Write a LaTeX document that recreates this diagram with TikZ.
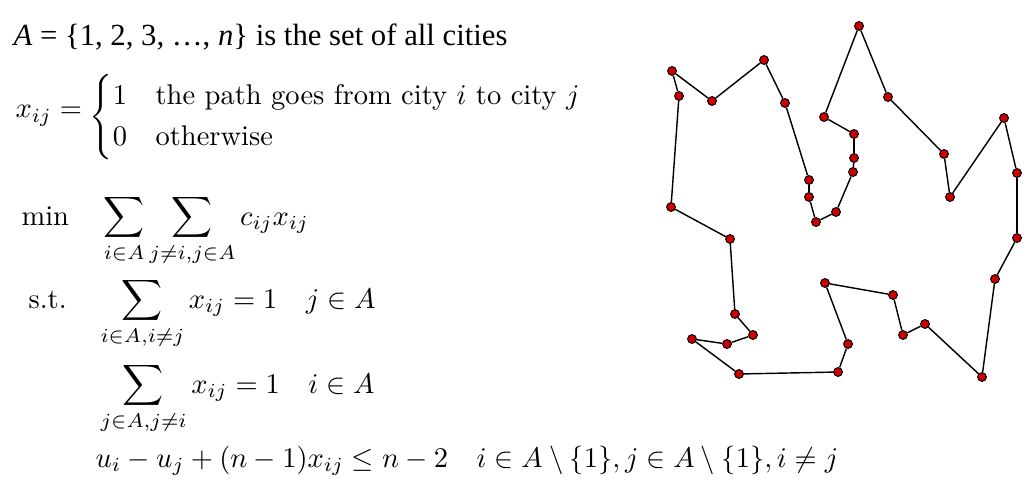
\documentclass[tikz,border=0pt]{standalone}
\usepackage{amsmath}
\usepackage{fontspec}
\usepackage{tikz}
\newfontfamily\timesfont{Liberation Serif}
\definecolor{cityred}{RGB}{204,0,0}

\begin{document}
\begin{tikzpicture}[x=0.3509pt,y=-0.3509pt]
		\tikzset{
			city/.style={
				draw, circle, fill=cityred, inner sep=0pt, minimum size=3.1pt, line width=0.35pt
			},
			formula/.style={
				anchor=base west, inner sep=0pt
			}
		}
		\useasboundingbox (0,0) rectangle (1036,492);
		
		\node [formula, font=\timesfont\fontsize{10.78}{13}\selectfont] (cities) at (13,46) {{\itshape A} = \{1, 2, 3, …, {\itshape n}\} is the set of all cities};
		\node [formula] (xdef) at (15,118) {$x_{ij} = \raisebox{-2.1pt}{$\renewcommand{\arraystretch}{1.25}\begin{cases} 1 & \text{the path goes from city $i$ to city $j$}\\ 0 & \text{otherwise}\end{cases}$}$};
		
		\node [formula] (min) at (21,225) {$\min$};
		\node [formula] (obj) at (103,225) {$\displaystyle\sum_{i\in A}\sum_{j\neq i,j\in A} c_{ij}x_{ij}$};
		\node [formula] (st) at (28,308) {s.t.};
		\node [formula] (con1) at (100,308) {$\displaystyle\sum_{i\in A,i\neq j} x_{ij} = 1 \quad j\in A$};
		\node [formula] (con2) at (100,393) {$\displaystyle\sum_{j\in A,j\neq i} x_{ij} = 1 \quad i\in A$};
		\node [formula] (con3) at (95,467) {$u_i - u_j + (n-1)x_{ij} \le n-2 \quad i\in A\setminus\{1\}, j\in A\setminus\{1\}, i\neq j$};
		
		\foreach \px/\py [count=\i] in {672/71, 712/101, 764/60, 785/103, 809/180, 809/197, 816/222, 836/212, 853/172, 854/158, 854/134, 824/117, 859/26, 888/97, 944/154, 950/197, 1004/118, 1017/173, 1017/238, 995/279, 982/377, 925/324, 903/335, 893/295, 825/283, 848/344, 838/372, 739/374, 692/339, 727/344, 753/335, 735/314, 730/239, 671/207, 679/96}{
			\node [city] (c\i) at (\px,\py) {};
		}
		
		\foreach \i [evaluate=\i as \j using {int(mod(\i,35)+1)}] in {1, ..., 35}{
			\path (c\i) edge [draw, line width=0.5pt] (c\j);
		}
		\end{tikzpicture}
\end{document}
